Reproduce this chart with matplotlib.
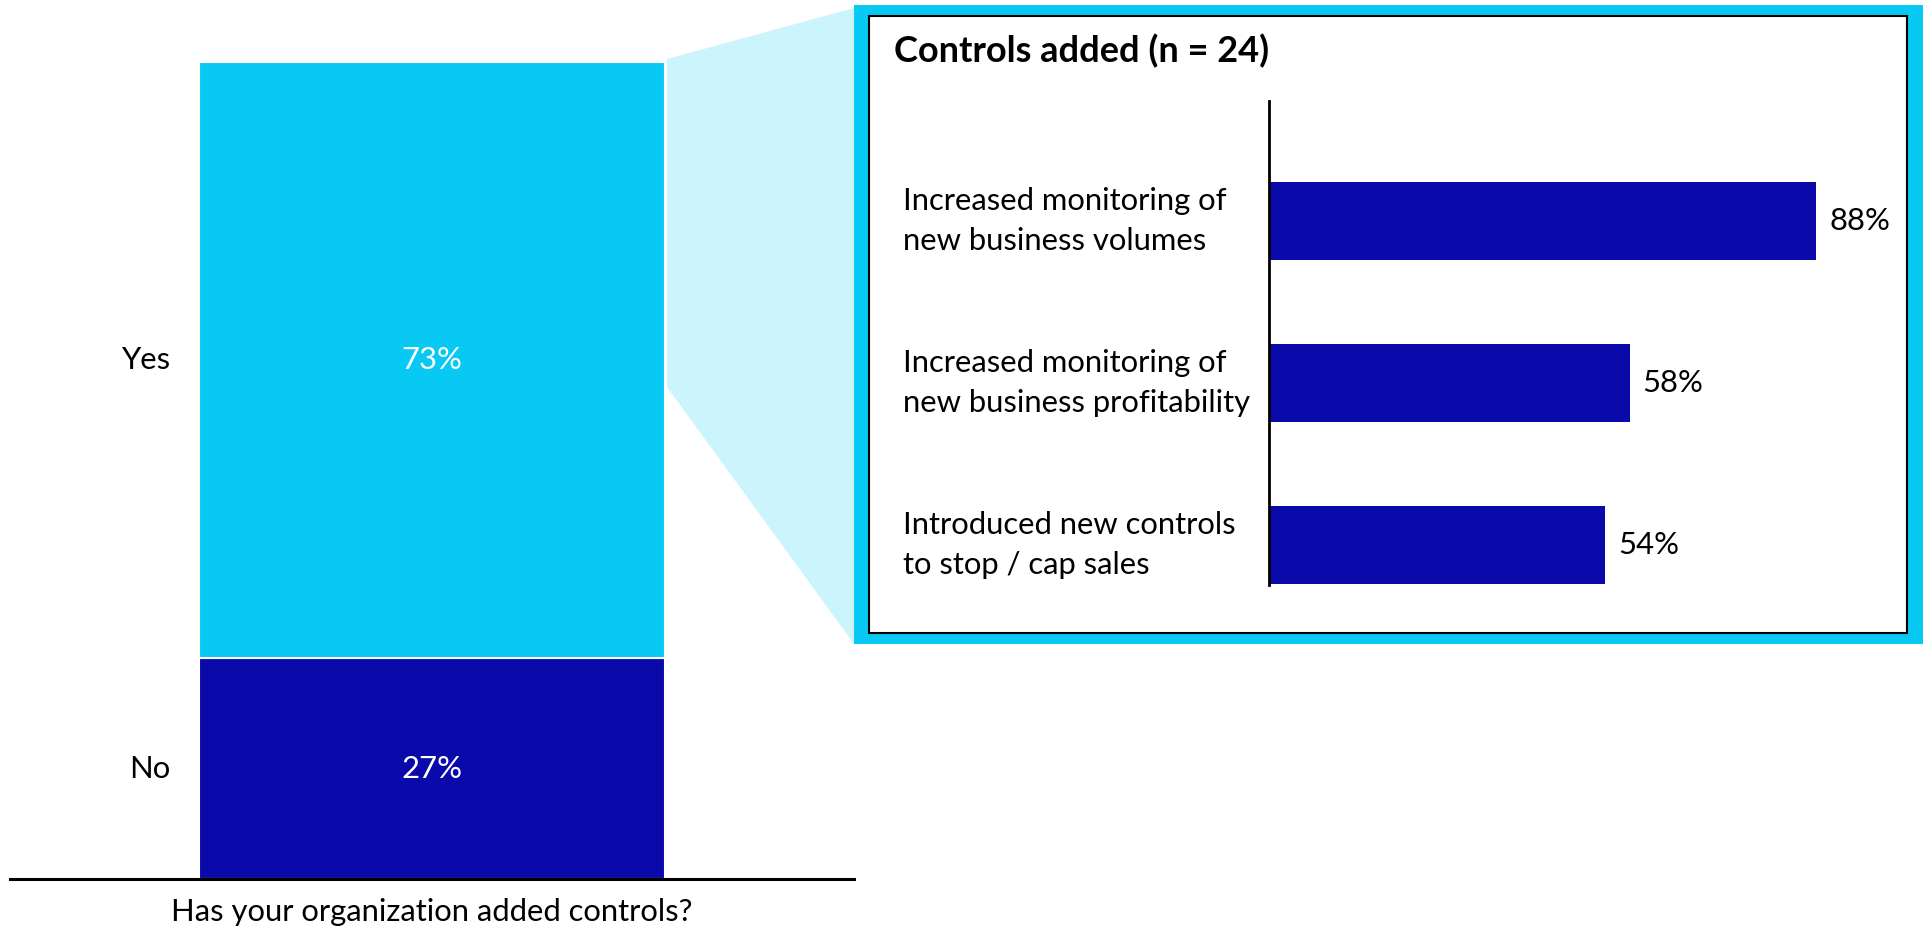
import matplotlib.pyplot as plt
from matplotlib.patches import Polygon, Rectangle

W, H = 1931, 930

# survey answers (stacked bar, bottom to top)
answers = ['No', 'Yes']
answer_share = [27, 73]
question = 'Has your organization added controls?'

# breakdown of the "Yes" group
inset_title = 'Controls added (n = 24)'
controls = ['Increased monitoring of\nnew business volumes',
            'Increased monitoring of\nnew business profitability',
            'Introduced new controls\nto stop / cap sales']
control_share = [88, 58, 54]

CYAN = '#08C9F3'
NAVY = '#0A0AAB'
PALE = '#CCF4FD'
answer_colors = [NAVY, CYAN]

plt.rcParams['font.family'] = ['Lato', 'DejaVu Sans']
FS = 22.3


def box(x0, y0, x1, y1):
    # pixel box measured from the top-left corner -> figure fraction rect
    return [x0 / W, 1 - y1 / H, (x1 - x0) / W, (y1 - y0) / H]


def px(x, y):
    return (x / W, 1 - y / H)


def pts(n):
    return n * 72 / 100


fig = plt.figure(figsize=(W / 100, H / 100), dpi=100)

# zoom wedge joining the Yes segment to the detail panel
fig.add_artist(Polygon([px(667, 59), px(854, 8), px(854, 644), px(667, 387)],
                       closed=True, transform=fig.transFigure,
                       facecolor=PALE, edgecolor='none', zorder=0))
# detail panel frame
fig.add_artist(Rectangle(px(854, 644), 1069 / W, 639 / H, transform=fig.transFigure,
                         facecolor=CYAN, edgecolor='none', zorder=1))
fig.add_artist(Rectangle(px(869, 633), (1907 - 869) / W, (633 - 16) / H,
                         transform=fig.transFigure, facecolor='white',
                         edgecolor='black', linewidth=1.5, zorder=1.5))

# ---- left: stacked Yes / No bar ----
ax = fig.add_axes(box(10, 62, 854, 879))
ax.set_zorder(3)
ax.patch.set_visible(False)
bw = 1.104
bottom = 0
for lab, val, col in zip(answers, answer_share, answer_colors):
    ax.bar(0, val, bottom=bottom, width=bw, color=col, edgecolor='white', linewidth=1.5)
    mid = bottom + val / 2
    ax.text(0, mid, f'{val}%', color='white', ha='center', va='center', fontsize=FS)
    ax.annotate(lab, xy=(-bw / 2, mid), xytext=(-pts(29), 0), textcoords='offset points',
                ha='right', va='center', fontsize=FS)
    bottom += val
ax.set_xlim(-1, 1)
ax.set_ylim(0, 100)
for s in ['top', 'left', 'right']:
    ax.spines[s].set_visible(False)
ax.spines['bottom'].set_linewidth(2.2)
ax.set_xticks([])
ax.set_yticks([])
ax.annotate(question, xy=(0, 0), xytext=(0, -pts(33)), textcoords='offset points',
            ha='center', va='center', fontsize=FS)

# ---- right: detail horizontal bars ----
ax2 = fig.add_axes(box(1269, 101, 1891, 585))
ax2.set_zorder(3)
ax2.patch.set_visible(False)
ypos = list(range(len(controls)))
ax2.barh(ypos, control_share, height=0.483, color=NAVY)
for y, lab, val in zip(ypos, controls, control_share):
    ax2.annotate(f'{val}%', xy=(val, y), xytext=(pts(13), 0), textcoords='offset points',
                 ha='left', va='center', fontsize=FS)
    ax2.annotate(lab, xy=(0, y), xycoords=('axes fraction', 'data'),
                 xytext=(-pts(1269 - 903), 0), textcoords='offset points',
                 ha='left', va='center', fontsize=FS, linespacing=1.52)
ax2.set_xlim(0, 100)
ax2.set_ylim(2.25, -0.743)
for s in ['top', 'bottom', 'right']:
    ax2.spines[s].set_visible(False)
ax2.spines['left'].set_linewidth(2)
ax2.set_xticks([])
ax2.set_yticks([])

fig.text(894 / W, 1 - 51 / H, inset_title, ha='left', va='center',
         fontsize=26, fontweight='bold', zorder=4)

fig.savefig('out.png', dpi=100)
